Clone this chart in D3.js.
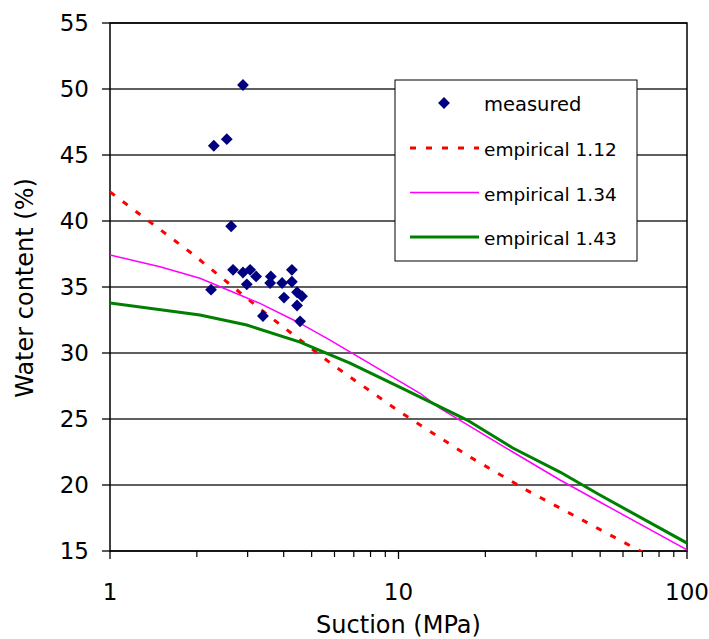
<!DOCTYPE html>
<html>
<head>
<meta charset="utf-8">
<script src="https://cdn.jsdelivr.net/npm/d3@7"></script>
<style>
	body { margin: 0; background: #fff; }
	text { font-family: "DejaVu Sans", Verdana, sans-serif; fill: #000; }
</style>
</head>
<body>
<div id="visDiv"></div>
<script>
// measured points
var measSuction = [2.89, 2.29, 2.54, 2.63, 2.24, 2.67, 2.89, 3.06, 3.21, 2.98, 3.39, 3.61, 3.59, 3.95, 4.01, 4.27, 4.27, 4.45, 4.63, 4.45, 4.56];
var measWater   = [50.3, 45.7, 46.2, 39.6, 34.8, 36.3, 36.1, 36.3, 35.8, 35.2, 32.8, 35.8, 35.3, 35.3, 34.2, 36.3, 35.4, 34.6, 34.3, 33.6, 32.4];

// empirical curves
var e112Suction = [1, 1.92, 3.54, 5.93, 10.2, 17.7, 28.1, 44.9, 63.8, 100];
var e112Water   = [42.2, 37.55, 32.83, 29.09, 25.48, 22.12, 19.55, 17.17, 15.38, 13.1];
var e134Suction = [1, 1.49, 2.05, 2.82, 3.31, 4.45, 5.79, 7.96, 11.87, 13.9, 24.9, 36.3, 49.9, 100];
var e134Water   = [37.42, 36.54, 35.66, 34.39, 33.76, 32.37, 30.98, 29.2, 26.95, 25.83, 22.5, 20.38, 18.71, 15.08];
var e143Suction = [1, 2.05, 2.98, 4.56, 6.79, 10.1, 17.3, 24.9, 36.3, 49.9, 100];
var e143Water   = [33.79, 32.88, 32.12, 30.83, 29.24, 27.42, 24.92, 22.8, 20.98, 19.24, 15.6];

var yTicks = [15, 20, 25, 30, 35, 40, 45, 50, 55];
var xTicks = [1, 10, 100];
var xMinor = [2, 3, 4, 5, 6, 7, 8, 9, 20, 30, 40, 50, 60, 70, 80, 90];

var series = [
	{name: 'empirical 1.12', x: e112Suction, y: e112Water, color: '#ff0000', width: 3, dash: '6,10'},
	{name: 'empirical 1.34', x: e134Suction, y: e134Water, color: '#ff00ff', width: 1.5, dash: null},
	{name: 'empirical 1.43', x: e143Suction, y: e143Water, color: '#008000', width: 3, dash: null}
];

var W = 709, H = 639,
	margin = {top: 23, right: 22, bottom: 88, left: 110},
	w = W - margin.left - margin.right,
	h = H - margin.top - margin.bottom;

var svg = d3.select('#visDiv')
	.append('svg')
		.attr('width', W)
		.attr('height', H)
	.append('g')
		.attr('transform', 'translate(' + margin.left + ',' + margin.top + ')');

var x = d3.scaleLog().domain([1, 100]).range([0, w]);
var y = d3.scaleLinear().domain([15, 55]).range([h, 0]);

svg.append('clipPath').attr('id', 'clip')
	.append('rect').attr('width', w).attr('height', h);

// gridlines
svg.selectAll('.grid').data(yTicks).enter()
	.append('line')
		.attr('x1', 0).attr('x2', w)
		.attr('y1', function(d) { return y(d); })
		.attr('y2', function(d) { return y(d); })
		.style('stroke', '#2a2a2a')
		.style('stroke-width', 1.3);

// y ticks + labels
svg.selectAll('.ytick').data(yTicks).enter()
	.append('line')
		.attr('x1', -8).attr('x2', 0)
		.attr('y1', function(d) { return y(d); })
		.attr('y2', function(d) { return y(d); })
		.style('stroke', '#000').style('stroke-width', 1.3);
svg.selectAll('.ylab').data(yTicks).enter()
	.append('text')
		.attr('x', -21)
		.attr('y', function(d) { return y(d) + 8; })
		.style('text-anchor', 'end')
		.style('font-size', '23px')
		.text(function(d) { return d; });

// x ticks
svg.selectAll('.xminor').data(xMinor).enter()
	.append('line')
		.attr('x1', function(d) { return x(d); })
		.attr('x2', function(d) { return x(d); })
		.attr('y1', h).attr('y2', h + 6)
		.style('stroke', '#000').style('stroke-width', 1.2);
svg.selectAll('.xmajor').data(xTicks).enter()
	.append('line')
		.attr('x1', function(d) { return x(d); })
		.attr('x2', function(d) { return x(d); })
		.attr('y1', h).attr('y2', h + 8)
		.style('stroke', '#000').style('stroke-width', 1.3);
svg.selectAll('.xlab').data(xTicks).enter()
	.append('text')
		.attr('x', function(d) { return x(d); })
		.attr('y', h + 49)
		.style('text-anchor', 'middle')
		.style('font-size', '23px')
		.text(function(d) { return d; });

// frame
svg.append('rect')
	.attr('width', w).attr('height', h)
	.style('fill', 'none')
	.style('stroke', '#000')
	.style('stroke-width', 1.5);

// curves
var line = d3.line()
	.x(function(d) { return x(d[0]); })
	.y(function(d) { return y(d[1]); });

svg.append('g').attr('clip-path', 'url(#clip)')
	.selectAll('path').data(series).enter()
	.append('path')
		.attr('d', function(s) { return line(d3.zip(s.x, s.y)); })
		.style('fill', 'none')
		.style('stroke', function(s) { return s.color; })
		.style('stroke-width', function(s) { return s.width; })
		.style('stroke-dasharray', function(s) { return s.dash; });

// measured diamonds
var diamond = d3.symbol().type(d3.symbolSquare).size(70);
svg.selectAll('.pt').data(d3.zip(measSuction, measWater)).enter()
	.append('path')
		.attr('d', diamond)
		.attr('transform', function(d) { return 'translate(' + x(d[0]) + ',' + y(d[1]) + ')rotate(45)'; })
		.style('fill', '#000080');

// axis titles
svg.append('text')
	.attr('x', x(10))
	.attr('y', h + 82)
	.style('text-anchor', 'middle')
	.style('font-size', '24px')
	.text('Suction (MPa)');
svg.append('text')
	.attr('transform', 'translate(' + (33 - margin.left) + ',' + (288 - margin.top) + ')rotate(-90)')
	.style('text-anchor', 'middle')
	.style('font-size', '24px')
	.text('Water content (%)');

// legend
var leg = svg.append('g').attr('transform', 'translate(' + (395 - margin.left) + ',' + (80 - margin.top) + ')');
leg.append('rect')
	.attr('width', 242).attr('height', 181)
	.style('fill', '#fff')
	.style('stroke', '#000')
	.style('stroke-width', 1);
leg.append('path')
	.attr('d', diamond)
	.attr('transform', 'translate(49,23)rotate(45)')
	.style('fill', '#000080');
leg.append('text')
	.attr('x', 89).attr('y', 31)
	.style('font-size', '19.5px')
	.text('measured');

var rows = leg.selectAll('.row').data(series).enter()
	.append('g')
		.attr('transform', function(d, i) { return 'translate(0,' + (68 + i * 44.5) + ')'; });
rows.append('line')
	.attr('x1', 15).attr('x2', 84)
	.style('stroke', function(s) { return s.color; })
	.style('stroke-width', function(s) { return s.width; })
	.style('stroke-dasharray', function(s) { return s.dash; });
rows.append('text')
	.attr('x', 89).attr('y', 8)
	.style('font-size', '18.5px')
	.text(function(s) { return s.name; });
</script>
</body>
</html>
